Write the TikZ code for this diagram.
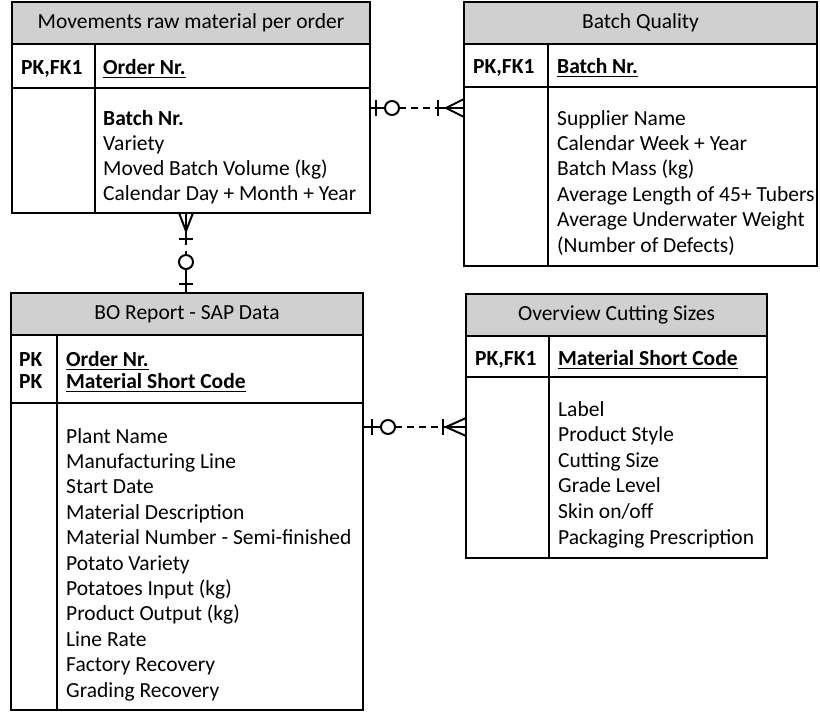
\documentclass[tikz,border=0pt]{standalone}
\usepackage{fontspec}
\setmainfont{Carlito}
\usetikzlibrary{calc}

\definecolor{hdrgray}{RGB}{208,208,208}
\newcommand\erfont{\fontsize{21.5}{25}\selectfont}
\newcommand\erkey[1]{\setbox0\hbox{\bfseries #1}\rlap{\vrule width\wd0 height -2.6pt depth 4.4pt}\box0}

\tikzset{
  tblbox/.style={draw, line width=1.5pt, inner sep=0pt, outer sep=0pt, anchor=north west},
  tblhead/.style={tblbox, fill=hdrgray, minimum height=42pt, font=\erfont},
  fld/.style={anchor=base west, inner sep=0pt, font=\erfont},
  rel/.style={line width=2pt},
  reldash/.style={rel, dash pattern=on 6.5pt off 5.5pt},
}

\begin{document}
\begin{tikzpicture}[x=1pt, y=-1pt]
    \useasboundingbox (0,0) rectangle (820,712);

    % Movements raw material per order
    \node[tblhead, minimum width=358pt] (mvHead) at (12,2) {Movements raw material per order};
    \node[tblbox, minimum width=358pt, minimum height=44pt] (mvKey) at (mvHead.south west) {};
    \node[tblbox, minimum width=358pt, minimum height=125pt] (mvBody) at (mvKey.south west) {};
    \draw[line width=1.5pt] (95,44) -- (95,213);
    \node[fld] (mvPK) at (21,74) {\bfseries PK,FK1};
    \node[fld] (mvOrder) at (103,74) {\erkey{Order Nr.}};
    \node[fld] (mvF-0) at (103,125) {\bfseries Batch Nr.};
    \foreach \t [count=\i] in {Variety, Moved Batch Volume (kg), Calendar Day + Month + Year}
        \node[fld] (mvF-\i) at (103,{125+25*\i}) {\t};

    % Batch Quality
    \node[tblhead, minimum width=353pt] (bqHead) at (464,2) {Batch Quality};
    \node[tblbox, minimum width=353pt, minimum height=43pt] (bqKey) at (bqHead.south west) {};
    \node[tblbox, minimum width=353pt, minimum height=179pt] (bqBody) at (bqKey.south west) {};
    \draw[line width=1.5pt] (548,44) -- (548,266);
    \node[fld] (bqPK) at (473,73) {\bfseries PK,FK1};
    \node[fld] (bqBatch) at (557,73) {\erkey{Batch Nr.}};
    \foreach \t [count=\i] in {Supplier Name, Calendar Week + Year, Batch Mass (kg),
        Average Length of 45+ Tubers, Average Underwater Weight, (Number of Defects)}
        \node[fld] (bqF-\i) at (557,{125+25.4*(\i-1)}) {\t};

    % BO Report - SAP Data
    \node[tblhead, minimum width=352pt] (boHead) at (11,293) {BO Report - SAP Data};
    \node[tblbox, minimum width=352pt, minimum height=68pt] (boKey) at (boHead.south west) {};
    \node[tblbox, minimum width=352pt, minimum height=307pt] (boBody) at (boKey.south west) {};
    \draw[line width=1.5pt] (57,335) -- (57,710);
    \node[fld] (boPK1) at (19,366) {\bfseries PK};
    \node[fld] (boPK2) at (19,388) {\bfseries PK};
    \node[fld] (boOrder) at (66,366) {\erkey{Order Nr.}};
    \node[fld] (boCode) at (66,388) {\erkey{Material Short Code}};
    \foreach \t [count=\i] in {Plant Name, Manufacturing Line, Start Date, Material Description,
        Material Number - Semi-finished, Potato Variety, Potatoes Input (kg), Product Output (kg),
        Line Rate, Factory Recovery, Grading Recovery}
        \node[fld] (boF-\i) at (66,{443+25.4*(\i-1)}) {\t};

    % Overview Cutting Sizes
    \node[tblhead, minimum width=301pt] (ocHead) at (466,294) {Overview Cutting Sizes};
    \node[tblbox, minimum width=301pt, minimum height=41pt] (ocKey) at (ocHead.south west) {};
    \node[tblbox, minimum width=301pt, minimum height=181pt] (ocBody) at (ocKey.south west) {};
    \draw[line width=1.5pt] (549,336) -- (549,558);
    \node[fld] (ocPK) at (475,365) {\bfseries PK,FK1};
    \node[fld] (ocCode) at (558,365) {\erkey{Material Short Code}};
    \foreach \t [count=\i] in {Label, Product Style, Cutting Size, Grade Level, Skin on/off,
        Packaging Prescription}
        \node[fld] (ocF-\i) at (558,{416+25.6*(\i-1)}) {\t};

    % Movements -- Batch Quality
    \coordinate (mvR) at ($(mvKey.south east)+(0,20)$);
    \coordinate (bqL) at (bqBody.west |- mvR);
    \draw[rel] (mvR) -- ++(15,0);
    \draw[rel] ($(mvR)+(6,-8)$) -- ++(0,16);
    \draw[rel] ($(mvR)+(22,0)$) circle[radius=7pt];
    \draw[reldash] ($(mvR)+(29,0)$) -- ($(bqL)+(-26,0)$);
    \draw[rel] ($(bqL)+(-26,0)$) -- (bqL);
    \draw[rel] ($(bqL)+(-26,-8)$) -- ++(0,16);
    \draw[rel] ($(bqL)+(0,-9)$) -- ($(bqL)+(-18,0)$) -- ($(bqL)+(0,9)$);

    % Movements -- BO Report
    \coordinate (mvB) at ($(mvBody.south west)+(174,0)$);
    \coordinate (boT) at (boHead.north -| mvB);
    \draw[rel] ($(mvB)+(-7,0)$) -- ($(mvB)+(0,18)$) -- ($(mvB)+(7,0)$);
    \draw[rel] (mvB) -- ++(0,32);
    \draw[rel] ($(mvB)+(-7,26)$) -- ++(14,0);
    \draw[rel] ($(mvB)+(0,38)$) -- ++(0,4);
    \draw[rel] ($(mvB)+(0,49)$) circle[radius=7pt];
    \draw[rel] ($(mvB)+(0,56)$) -- (boT);
    \draw[rel] ($(boT)+(-7,-9)$) -- ++(14,0);

    % BO Report -- Overview Cutting Sizes
    \coordinate (boR) at ($(boKey.south east)+(0,24)$);
    \coordinate (ocL) at (ocBody.west |- boR);
    \draw[rel] (boR) -- ++(18,0);
    \draw[rel] ($(boR)+(9,-8)$) -- ++(0,16);
    \draw[rel] ($(boR)+(25,0)$) circle[radius=7pt];
    \draw[reldash] ($(boR)+(32,0)$) -- ($(ocL)+(-23,0)$);
    \draw[rel] ($(ocL)+(-23,0)$) -- (ocL);
    \draw[rel] ($(ocL)+(-23,-8)$) -- ++(0,16);
    \draw[rel] ($(ocL)+(0,-9)$) -- ($(ocL)+(-20,0)$) -- ($(ocL)+(0,9)$);
\end{tikzpicture}
\end{document}
